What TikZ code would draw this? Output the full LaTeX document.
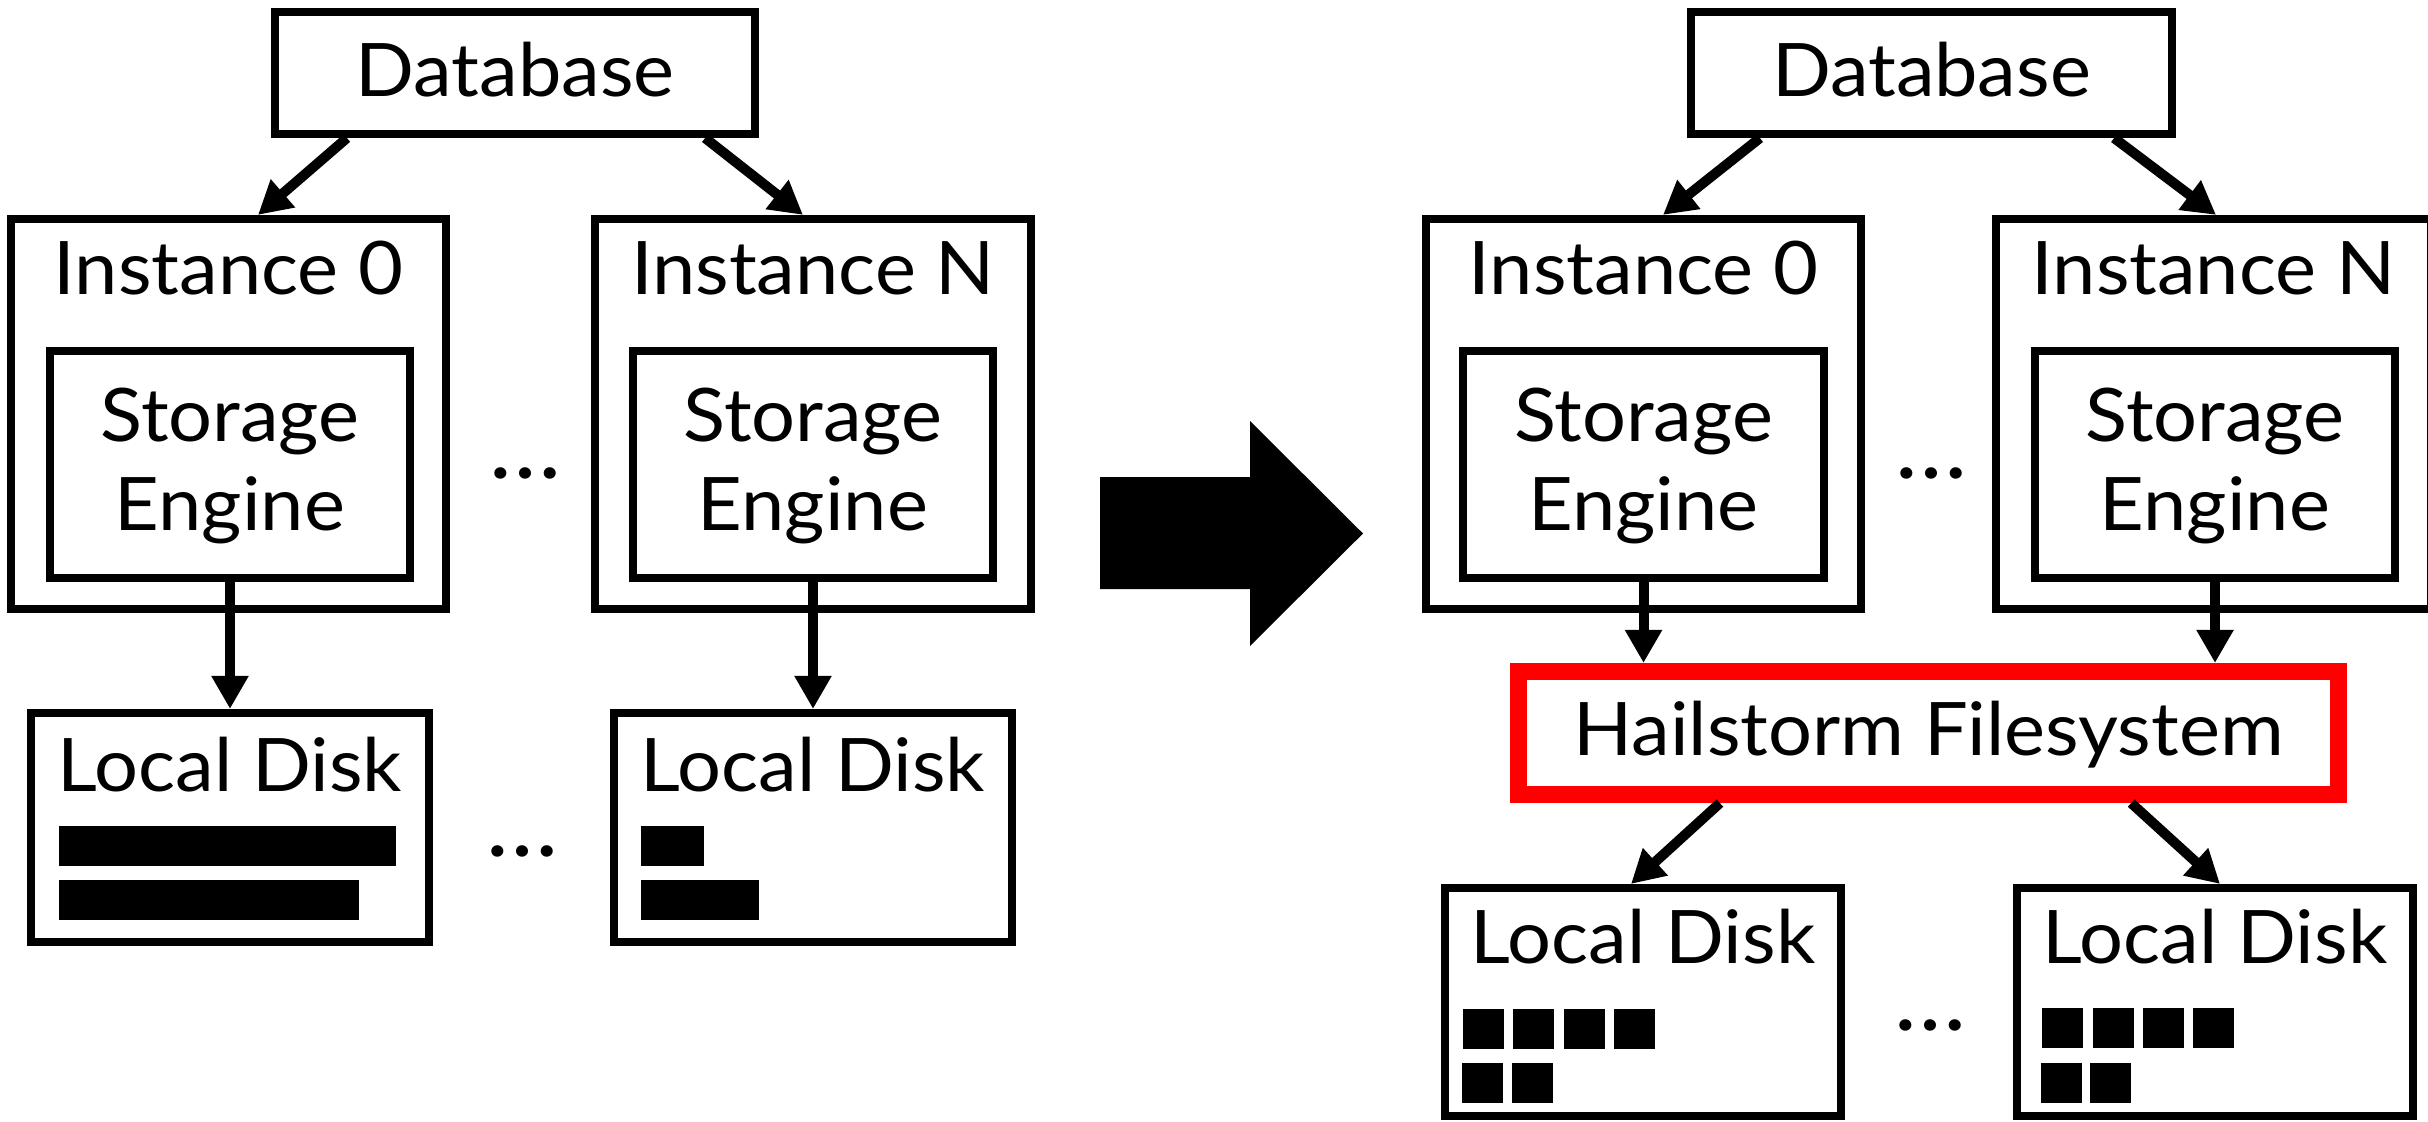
\documentclass[tikz,border=0pt]{standalone}
\usepackage{fontspec}
\setmainfont[FakeStretch=1.05]{Lato}
\usetikzlibrary{arrows.meta,calc}

\newcommand{\labelfont}{\fontsize{21pt}{25pt}\selectfont}
\newcommand{\dotsfont}{\fontsize{26pt}{30pt}\selectfont}

\tikzset{
  box/.style={draw, line width=0.08cm, inner sep=0pt},
  hailbox/.style={draw=hailred, line width=0.17cm, inner sep=0pt},
  link/.style={line width=0.1cm, -{Triangle[length=0.33cm,width=0.35cm]}},
  lbl/.style={anchor=base, inner sep=0pt, outer sep=0pt, font=\labelfont},
  dots/.style={anchor=base, inner sep=0pt, font=\dotsfont},
  block/.style={fill=black},
}
\definecolor{hailred}{RGB}{255,0,0}

\begin{document}
\begin{tikzpicture}[x=0.01cm, y=-0.01cm]
\useasboundingbox (0,0) rectangle (2428,1121);
\clip (0,0) rectangle (2428,1121);

% ---------------- left: one local disk per instance ----------------
\node[box, minimum width=4.80cm, minimum height=1.22cm] (dbL) at (515,73) {};
\node[lbl] (dbLt) at (515,96) {Database};

\node[box, minimum width=4.35cm, minimum height=3.90cm] (i0L) at (228.5,414) {};
\node[lbl] (i0Lt) at (228.5,294.6) {Instance 0};
\node[box, minimum width=3.60cm, minimum height=2.27cm] (se0L) at (230,464.5) {};
\node[lbl] (se0La) at (230,441) {Storage};
\node[lbl] (se0Lb) at (230,530) {Engine};

\node[box, minimum width=4.36cm, minimum height=3.90cm] (iNL) at (813,414) {};
\node[lbl] (iNLt) at (813,294.6) {Instance N};
\node[box, minimum width=3.60cm, minimum height=2.27cm] (seNL) at (813,464.5) {};
\node[lbl] (seNLa) at (813,441) {Storage};
\node[lbl] (seNLb) at (813,530) {Engine};

\node[dots] (dotsL1) at (525,478) {…};

\node[box, minimum width=3.98cm, minimum height=2.29cm] (ld0L) at (230,827.5) {};
\node[lbl] (ld0Lt) at (230,791) {Local Disk};
\fill[block] (59,826) rectangle (396,866);
\fill[block] (59,880) rectangle (359,920);

\node[box, minimum width=3.98cm, minimum height=2.29cm] (ldNL) at (813,827.5) {};
\node[lbl] (ldNLt) at (813,791) {Local Disk};
\fill[block] (641,826) rectangle (704,866);
\fill[block] (641,880) rectangle (759,920);

\node[dots] (dotsL2) at (522,856) {…};

\draw[link] ([xshift=-1.68cm]dbL.south) -- ([xshift=0.295cm]i0L.north);
\draw[link] ([xshift=1.90cm]dbL.south) -- ([xshift=-0.10cm]iNL.north);
\draw[link] (se0L.south) -- (ld0L.north);
\draw[link] (seNL.south) -- (ldNL.north);

% ---------------- transition arrow ----------------
\fill (1100,477) -- (1250,477) -- (1250,421) -- (1363,533.5)
      -- (1250,646) -- (1250,589) -- (1100,589) -- cycle;

% ---------------- right: instances on the Hailstorm filesystem ----------------
\node[box, minimum width=4.81cm, minimum height=1.22cm] (dbR) at (1931.5,73) {};
\node[lbl] (dbRt) at (1931.5,96) {Database};

\node[box, minimum width=4.35cm, minimum height=3.90cm] (i0R) at (1643.5,414) {};
\node[lbl] (i0Rt) at (1643.5,294.6) {Instance 0};
\node[box, minimum width=3.60cm, minimum height=2.27cm] (se0R) at (1643.5,464.5) {};
\node[lbl] (se0Ra) at (1643.5,441) {Storage};
\node[lbl] (se0Rb) at (1643.5,530) {Engine};

\node[box, minimum width=4.35cm, minimum height=3.90cm] (iNR) at (2213.5,414) {};
\node[lbl] (iNRt) at (2213.5,294.6) {Instance N};
\node[box, minimum width=3.60cm, minimum height=2.27cm] (seNR) at (2215,464.5) {};
\node[lbl] (seNRa) at (2215,441) {Storage};
\node[lbl] (seNRb) at (2215,530) {Engine};

\node[dots] (dotsR1) at (1931,478) {…};

\node[hailbox, minimum width=8.20cm, minimum height=1.23cm] (hail) at (1928.5,733) {};
\node[lbl] (hailt) at (1928.5,755.7) {Hailstorm Filesystem};

\node[box, minimum width=3.96cm, minimum height=2.28cm] (ld0R) at (1643,1002) {};
\node[lbl] (ld0Rt) at (1643,963.6) {Local Disk};
\foreach \x in {1463,1513,1564,1614} \fill[block] (\x,1009) rectangle ++(41,40);
\foreach \x in {1462,1512} \fill[block] (\x,1063) rectangle ++(41,40);

\node[box, minimum width=3.96cm, minimum height=2.28cm] (ldNR) at (2215,1002) {};
\node[lbl] (ldNRt) at (2215,963.6) {Local Disk};
\foreach \x in {2042,2093,2143,2193} \fill[block] (\x,1008) rectangle ++(41,40);
\foreach \x in {2041,2090} \fill[block] (\x,1063) rectangle ++(41,40);

\node[dots] (dotsR2) at (1930,1030) {…};

\draw[link] ([xshift=-1.715cm]dbR.south) -- ([xshift=0.195cm]i0R.north);
\draw[link] ([xshift=1.825cm]dbR.south) -- ([xshift=0.025cm]iNR.north);
\draw[link] (se0R.south) -- (se0R.south |- hail.north);
\draw[link] (seNR.south) -- (seNR.south |- hail.north);
\draw[link] ([xshift=-2.085cm]hail.south) -- ([xshift=-0.12cm]ld0R.north);
\draw[link] ([xshift=2.025cm]hail.south) -- ([xshift=0.05cm]ldNR.north);
\end{tikzpicture}
\end{document}
